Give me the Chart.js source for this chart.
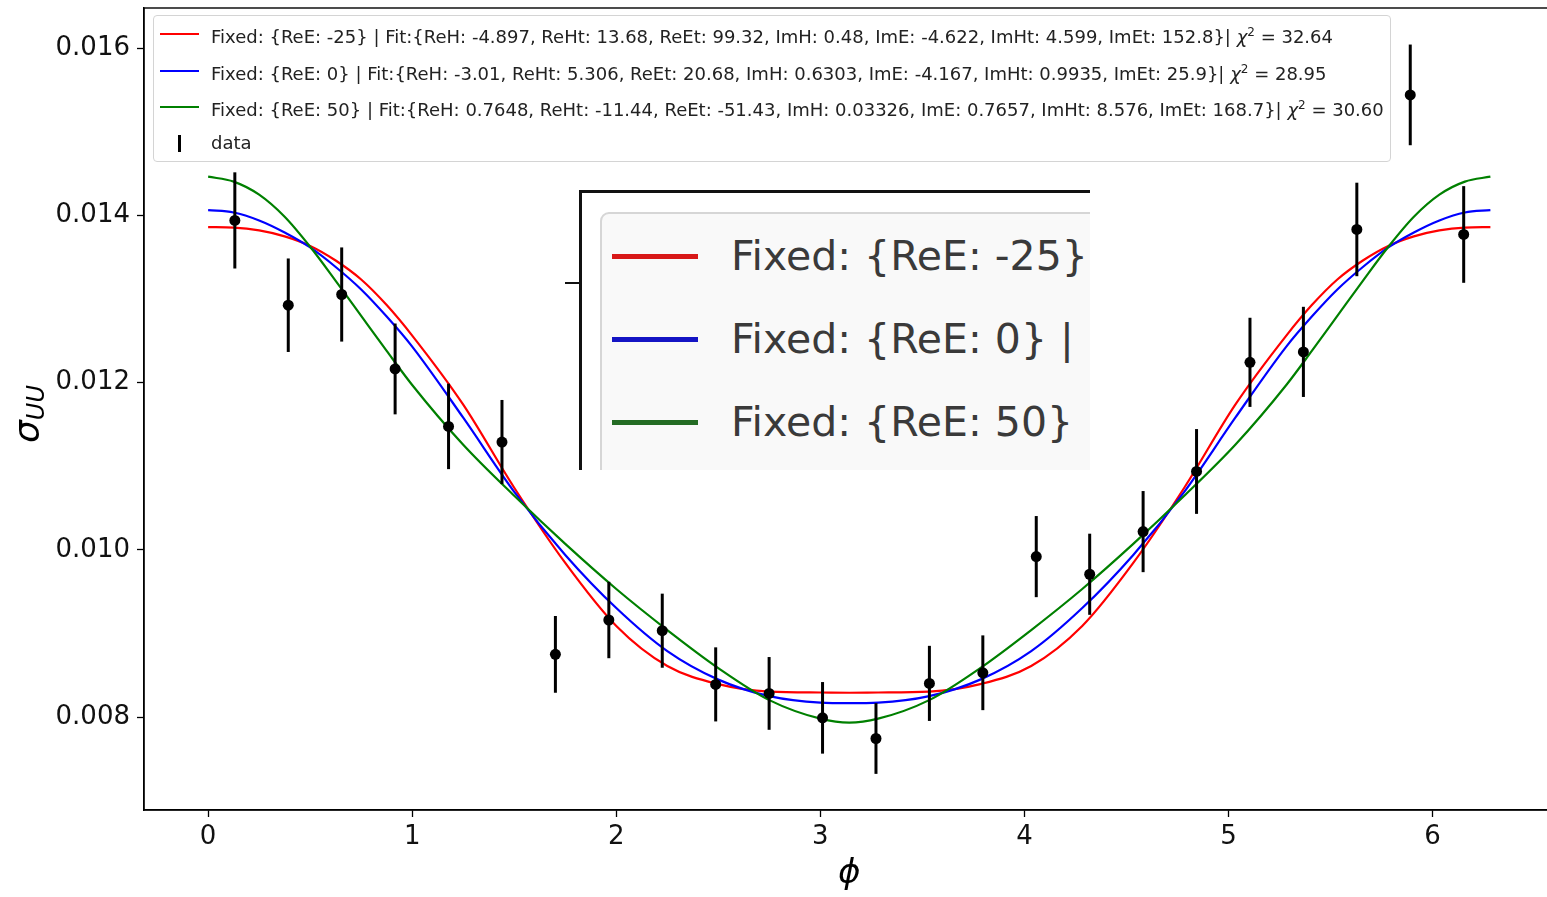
<!DOCTYPE html>
<html lang="en">
<head>
    <meta charset="UTF-8">
    <title>sigma_UU fits</title>
    <script src="https://cdn.jsdelivr.net/npm/chart.js"></script>
    <style>
        html, body {
            margin: 0;
            padding: 0;
            overflow: hidden;
            background: #fff;
        }
        .wrap {
            position: relative;
            width: 1560px;
            height: 897px;
        }
        .legend {
            position: absolute;
            left: 153px;
            top: 15px;
            width: 1236px;
            height: 145px;
            border: 1px solid #d4d4d4;
            border-radius: 4px;
            background: rgba(255, 255, 255, 0.85);
            font-family: "DejaVu Sans", sans-serif;
            font-size: 18px;
            color: #222;
        }
        .legend .row {
            position: absolute;
            left: 0;
            height: 22px;
            line-height: 22px;
            white-space: nowrap;
        }
        .legend .handle {
            position: absolute;
            left: 6px;
            top: 12px;
            width: 39px;
            height: 2px;
        }
        .legend .txt {
            position: absolute;
            left: 57px;
            top: 0;
        }
        .inset {
            position: absolute;
            left: 563px;
            top: 188px;
            width: 527px;
            height: 282px;
            overflow: hidden;
            background: #fff;
        }
        .inset .box {
            position: absolute;
            left: 37px;
            top: 24px;
            width: 700px;
            height: 400px;
            border: 2px solid #d6d6d6;
            border-radius: 9px;
            background: #f9f9f9;
        }
        .inset .row {
            position: absolute;
            left: 49px;
            height: 48px;
            line-height: 48px;
            white-space: nowrap;
            font-family: "DejaVu Sans", sans-serif;
            font-size: 41px;
            color: #3a3a3a;
        }
        .inset .handle {
            position: absolute;
            left: 0;
            top: 22px;
            width: 86px;
            height: 5px;
        }
        .inset .txt {
            position: absolute;
            left: 119px;
            top: 0;
        }
    </style>
</head>
<body>
    <div class="wrap">
        <canvas id="sigmaChart"></canvas>
        <div class="legend" id="legend"></div>
        <div class="inset" id="inset"></div>
    </div>

    <script>
        // measured points (phi bins) with errors
        const phiData = [0.1309, 0.3927, 0.6545, 0.9163, 1.1781, 1.4399, 1.7017, 1.9635, 2.2253, 2.4871, 2.7489, 3.0107,
                         3.2725, 3.5343, 3.7961, 4.0579, 4.3197, 4.5815, 4.8433, 5.1051, 5.3669, 5.6287, 5.8905, 6.1523];
        const sigmaData = [0.013940, 0.012926, 0.013054, 0.012164, 0.011477, 0.011290, 0.008751, 0.009162, 0.009034, 0.008392, 0.008284, 0.007992,
                           0.007745, 0.008404, 0.008531, 0.009920, 0.009709, 0.010219, 0.010938, 0.012243, 0.012368, 0.013832, 0.015441, 0.013772];
        const sigmaErr = [0.000575, 0.000559, 0.000563, 0.000543, 0.000511, 0.000503, 0.000459, 0.000457, 0.000443, 0.000443, 0.000435, 0.000428,
                          0.000423, 0.000449, 0.000447, 0.000485, 0.000485, 0.000485, 0.000507, 0.000533, 0.000539, 0.000559, 0.000602, 0.000578];

        // fit curves
        const fitPhi = [0, 0.125, 0.25, 0.375, 0.5, 0.625, 0.75, 0.875, 1, 1.25, 1.5, 1.75, 2, 2.25, 2.5, 2.75, 3, 3.1416,
                        3.2832, 3.5332, 3.7832, 4.0332, 4.2832, 4.5332, 4.7832, 5.0332, 5.2832, 5.4082, 5.5332, 5.6582, 5.7832, 5.9082, 6.0332, 6.1582, 6.2832];
        const fitReEm25 = [0.013860, 0.013854, 0.013820, 0.013749, 0.013635, 0.013461, 0.013234, 0.012928, 0.012563, 0.011737, 0.010743, 0.009844, 0.009090, 0.008611, 0.008395, 0.008305, 0.008295, 0.008292,
                           0.008295, 0.008305, 0.008395, 0.008611, 0.009090, 0.009844, 0.010743, 0.011737, 0.012563, 0.012928, 0.013234, 0.013461, 0.013635, 0.013749, 0.013820, 0.013854, 0.013860];
        const fitReE0 = [0.014063, 0.014035, 0.013940, 0.013796, 0.013617, 0.013383, 0.013114, 0.012790, 0.012431, 0.011581, 0.010695, 0.009940, 0.009305, 0.008790, 0.008449, 0.008251, 0.008174, 0.008168,
                         0.008174, 0.008251, 0.008449, 0.008790, 0.009305, 0.009940, 0.010695, 0.011581, 0.012431, 0.012790, 0.013114, 0.013383, 0.013617, 0.013796, 0.013940, 0.014035, 0.014063];
        const fitReE50 = [0.014463, 0.014404, 0.014248, 0.013984, 0.013625, 0.013218, 0.012799, 0.012380, 0.011972, 0.011257, 0.010647, 0.010072, 0.009533, 0.009042, 0.008587, 0.008204, 0.007982, 0.007934,
                          0.007982, 0.008204, 0.008587, 0.009042, 0.009533, 0.010072, 0.010647, 0.011257, 0.011972, 0.012380, 0.012799, 0.013218, 0.013625, 0.013984, 0.014248, 0.014404, 0.014463];

        const fitFixed = ['Fixed: {ReE: -25}', 'Fixed: {ReE: 0}', 'Fixed: {ReE: 50}'];
        const fitParams = [
            'Fit:{ReH: -4.897, ReHt: 13.68, ReEt: 99.32, ImH: 0.48, ImE: -4.622, ImHt: 4.599, ImEt: 152.8}',
            'Fit:{ReH: -3.01, ReHt: 5.306, ReEt: 20.68, ImH: 0.6303, ImE: -4.167, ImHt: 0.9935, ImEt: 25.9}',
            'Fit:{ReH: 0.7648, ReHt: -11.44, ReEt: -51.43, ImH: 0.03326, ImE: 0.7657, ImHt: 8.576, ImEt: 168.7}'
        ];
        const chiSq = ['32.64', '28.95', '30.60'];
        const fitColors = ['#ff0000', '#0000ff', '#008000'];
        const insetColors = ['#d81818', '#1414c4', '#246c24'];

        const xTicks = [0, 1, 2, 3, 4, 5, 6];
        const yTicks = [0.008, 0.010, 0.012, 0.014, 0.016];

        // legend inside the axes
        const legend = document.getElementById('legend');
        const rowTops = [5, 42, 78];
        fitFixed.forEach((f, i) => {
            legend.insertAdjacentHTML('beforeend',
                '<div class="row" style="top:' + rowTops[i] + 'px"><div class="handle" style="background:' + fitColors[i] + '"></div>' +
                '<span class="txt">' + f + ' | ' + fitParams[i] + '| <i>&chi;</i><sup style="font-size:12px;vertical-align:7px">2</sup> = ' + chiSq[i] + '</span></div>');
        });
        legend.insertAdjacentHTML('beforeend',
            '<div class="row" style="top:116px"><div style="position:absolute;left:24px;top:3px;width:2.5px;height:17px;background:#000"></div>' +
            '<span class="txt">data</span></div>');

        // pasted enlarged legend snippet
        const inset = document.getElementById('inset');
        inset.insertAdjacentHTML('beforeend',
            '<div style="position:absolute;left:16px;top:2px;width:600px;height:2.5px;background:#111"></div>' +
            '<div style="position:absolute;left:16px;top:2px;width:2.5px;height:300px;background:#111"></div>' +
            '<div style="position:absolute;left:2px;top:94px;width:15px;height:2px;background:#111"></div>' +
            '<div class="box"></div>');
        const insetTops = [44, 127, 210];
        fitFixed.forEach((f, i) => {
            inset.insertAdjacentHTML('beforeend',
                '<div class="row" style="top:' + insetTops[i] + 'px"><div class="handle" style="background:' + insetColors[i] + '"></div>' +
                '<span class="txt">' + f + ' | ' + fitParams[i] + '</span></div>');
        });

        const toPts = (xs, ys) => xs.map((x, i) => ({ x: x, y: ys[i] }));

        const errorBars = {
            id: 'errorBars',
            beforeDatasetDraw(chart, args) {
                if (args.index !== 0) return;
                const { ctx, scales: { x, y } } = chart;
                ctx.save();
                ctx.strokeStyle = '#000';
                ctx.lineWidth = 3;
                phiData.forEach((p, i) => {
                    const px = x.getPixelForValue(p);
                    ctx.beginPath();
                    ctx.moveTo(px, y.getPixelForValue(sigmaData[i] - sigmaErr[i]));
                    ctx.lineTo(px, y.getPixelForValue(sigmaData[i] + sigmaErr[i]));
                    ctx.stroke();
                });
                ctx.restore();
            }
        };

        const frame = {
            id: 'frame',
            afterDatasetsDraw(chart) {
                const { ctx, chartArea: a } = chart;
                ctx.save();
                ctx.strokeStyle = '#000';
                ctx.lineWidth = 1.4;
                ctx.strokeRect(a.left, a.top, a.right - a.left, a.bottom - a.top);
                ctx.restore();
            }
        };

        const axisTitles = {
            id: 'axisTitles',
            afterDraw(chart) {
                const { ctx, chartArea: a } = chart;
                ctx.save();
                ctx.fillStyle = '#000';
                ctx.textAlign = 'center';
                ctx.textBaseline = 'middle';
                ctx.font = 'italic 34px "DejaVu Sans"';
                ctx.fillText('\u03d5', (a.left + a.right) / 2, 874);
                // sigma_UU, rotated
                ctx.translate(30, 414);
                ctx.rotate(-Math.PI / 2);
                ctx.textAlign = 'left';
                ctx.font = 'italic 36px "DejaVu Sans"';
                const w1 = ctx.measureText('\u03c3').width;
                ctx.font = 'italic 24px "DejaVu Sans"';
                const w2 = ctx.measureText('UU').width;
                const x0 = -(w1 + w2) / 2;
                ctx.font = 'italic 36px "DejaVu Sans"';
                ctx.fillText('\u03c3', x0, 0);
                ctx.font = 'italic 24px "DejaVu Sans"';
                ctx.fillText('UU', x0 + w1, 8);
                ctx.restore();
            }
        };

        const tickFont = { family: 'DejaVu Sans', size: 26 };
        const curveStyle = { borderWidth: 2.2, pointRadius: 0, cubicInterpolationMode: 'monotone' };

        new Chart(document.getElementById('sigmaChart').getContext('2d'), {
            type: 'line',
            data: {
                datasets: [
                    {
                        label: 'data',
                        data: toPts(phiData, sigmaData),
                        showLine: false,
                        pointRadius: 5.5,
                        pointBorderWidth: 0,
                        backgroundColor: '#000',
                        borderColor: '#000',
                        order: 0
                    },
                    Object.assign({ label: fitFixed[2], data: toPts(fitPhi, fitReE50), borderColor: fitColors[2], order: 1 }, curveStyle),
                    Object.assign({ label: fitFixed[1], data: toPts(fitPhi, fitReE0), borderColor: fitColors[1], order: 2 }, curveStyle),
                    Object.assign({ label: fitFixed[0], data: toPts(fitPhi, fitReEm25), borderColor: fitColors[0], order: 3 }, curveStyle)
                ]
            },
            options: {
                responsive: true,
                maintainAspectRatio: false,
                animation: false,
                layout: { padding: { top: 8, right: 4, left: 0, bottom: 0 } },
                plugins: {
                    legend: { display: false },
                    tooltip: { enabled: false }
                },
                scales: {
                    x: {
                        type: 'linear',
                        min: -0.3142,
                        max: 6.5973,
                        afterBuildTicks: s => { s.ticks = xTicks.map(v => ({ value: v })); },
                        afterFit: s => { s.height = 87; s.paddingLeft = 0; s.paddingRight = 0; },
                        ticks: { font: tickFont, color: '#111', padding: 5, maxRotation: 0, callback: v => String(v) },
                        grid: { drawOnChartArea: false, drawTicks: true, tickLength: 7, tickColor: '#000', tickWidth: 1.3 },
                        border: { display: true, color: '#000', width: 1.4 }
                    },
                    y: {
                        min: 0.00689,
                        max: 0.01648,
                        afterBuildTicks: s => { s.ticks = yTicks.map(v => ({ value: v })); },
                        afterFit: s => { s.width = 144; s.paddingTop = 0; s.paddingBottom = 0; },
                        ticks: { font: tickFont, color: '#111', padding: 7, callback: v => v.toFixed(3) },
                        grid: { drawOnChartArea: false, drawTicks: true, tickLength: 7, tickColor: '#000', tickWidth: 1.3 },
                        border: { display: true, color: '#000', width: 1.4 }
                    }
                }
            },
            plugins: [errorBars, frame, axisTitles]
        });
    </script>
</body>
</html>
